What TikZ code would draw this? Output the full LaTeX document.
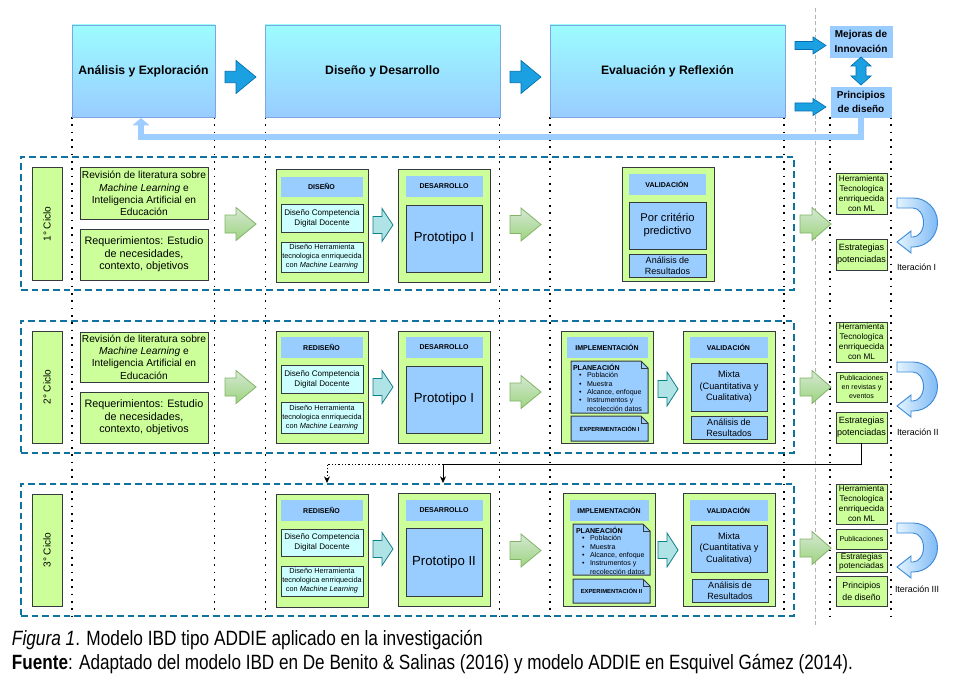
\documentclass[tikz,border=0pt]{standalone}
\usepackage{fontspec}
\setmainfont{Liberation Sans}
\usepackage{graphicx}
\usetikzlibrary{fit,shadows,arrows.meta}

\definecolor{hdrtop}{HTML}{9CFCFF}
\definecolor{hdrbot}{HTML}{99CCFF}
\definecolor{hdrline}{HTML}{7EA6E0}
\definecolor{lblue}{HTML}{99CCFF}
\definecolor{lgreen}{HTML}{CCFF99}
\definecolor{dline}{HTML}{36393D}
\definecolor{lcyan}{HTML}{CCFFFF}
\definecolor{bafill}{HTML}{1BA1E2}
\definecolor{baline}{HTML}{006EAF}
\definecolor{cyc}{HTML}{10739E}
\definecolor{gatop}{HTML}{D5E8D4}
\definecolor{gabot}{HTML}{9DD47F}
\definecolor{galine}{HTML}{82B366}
\definecolor{tafill}{HTML}{B0E3E6}
\definecolor{taline}{HTML}{0E8088}
\definecolor{utl}{HTML}{E3F4FF}
\definecolor{utr}{HTML}{7FBAF5}
\definecolor{utline}{HTML}{3D8BD8}
\definecolor{retc}{HTML}{9ECDFF}
\definecolor{gdash}{HTML}{B3B3B3}

\newcommand\blockarrow[7]{%
  \draw[#1] (#2,#3-#6) -- (#2+#4-#5,#3-#6) -- (#2+#4-#5,#3-#7) -- (#2+#4,#3)
    -- (#2+#4-#5,#3+#7) -- (#2+#4-#5,#3+#6) -- (#2,#3+#6) -- cycle;}

\newcommand\uturn[1]{%
  \draw[uturnst] (897,#1) -- (913,#1) arc[start angle=-90, end angle=90, radius=24.5]
    -- (911,#1+49) -- (911,#1+55) -- (897,#1+44) -- (911,#1+33) -- (911,#1+39) -- (913,#1+39)
    arc[start angle=90, end angle=-90, x radius=10.5, y radius=14.5] -- (897,#1+10) -- cycle;}

\newcommand\docshape[4]{%
  \draw[docst] (#1,#2) -- (#3-7,#2) -- (#3,#2+7) -- (#3,#4) -- (#1,#4) -- cycle;
  \draw[docfold] (#3-7,#2) -- (#3-7,#2+7) -- (#3,#2+7);}

% box: style, name, x1, y1, x2, y2, text style, text
\newcommand\bx[8]{%
  \node[#1, fit={(#3,#4)(#5,#6)}] (#2) {};
  \node[align=center, #7] (#2-t) at (#2.center) {#8};}

\newcommand\bul{\makebox[6pt][l]{•}}
\newcommand\planlist[3]{%
  \node[anchor=west, font=\bfseries\fontsize{5.3}{6}\selectfont] (#1t) at (#2,#3) {PLANEACIÓN};
  \node[anchor=north west, align=left, font=\fontsize{5.3}{6.3}\selectfont] (#1l) at (#2+6,#3+5.5)
    {\bul Población\\\bul Muestra\\\bul Alcance, enfoque\\\bul Instrumentos y\\\makebox[6pt][l]{}recolección datos};}

\begin{document}
\begin{tikzpicture}[x=0.75pt,y=-0.75pt,
  every node/.style={inner sep=0pt,outer sep=0pt},
  hdr/.style={draw=hdrline, line width=0.7pt, top color=hdrtop, bottom color=hdrbot},
  hdrf/.style={font=\bfseries\fontsize{9.15}{11}\selectfont},
  tbox/.style={draw=lblue, fill=lblue, line width=0.5pt},
  tboxf/.style={font=\bfseries\fontsize{7.5}{11.25}\selectfont},
  shad/.style={drop shadow={shadow xshift=0.9pt, shadow yshift=-0.9pt, opacity=0.3, fill=black}},
  gbox/.style={draw=dline, fill=lgreen, line width=0.75pt},
  panel/.style={gbox, shad},
  hbar/.style={fill=lblue, draw=lblue},
  hbarf/.style={font=\bfseries\fontsize{5.25}{6}\selectfont},
  cbox/.style={draw=dline, fill=lcyan, line width=0.75pt},
  bbox/.style={draw=dline, fill=lblue, line width=0.75pt},
  vdot/.style={line width=1.3pt, dash pattern=on 1.3pt off 4.2pt},
  cycbox/.style={draw=cyc, line width=1.4pt, dash pattern=on 5pt off 3pt},
  bluearrow/.style={fill=bafill, draw=baline, line width=0.5pt},
  greenarrow/.style={top color=gatop, bottom color=gabot, draw=galine, line width=0.6pt},
  tealarrow/.style={fill=tafill, draw=taline, line width=0.6pt},
  uturnst/.style={left color=utl, right color=utr, draw=utline, line width=0.7pt},
  docst/.style={fill=lblue, draw=dline, line width=0.75pt},
  docfold/.style={draw=dline, line width=0.6pt},
  conn/.style={draw=black, line width=0.6pt},
  dconn/.style={draw=black, line width=0.6pt, dash pattern=on 1pt off 1.5pt},
  retst/.style={draw=retc, line width=3.8pt},
  iter/.style={font=\fontsize{6.7}{8}\selectfont, anchor=west},
  revf/.style={font=\fontsize{7.65}{9.2}\selectfont},
  reqf/.style={font=\fontsize{8.1}{9.4}\selectfont},
  compf/.style={font=\fontsize{6.1}{7.5}\selectfont},
  herrf/.style={font=\fontsize{5.5}{6.7}\selectfont},
  protof/.style={font=\fontsize{9.9}{12}\selectfont},
  porf/.style={font=\fontsize{8.4}{9.75}\selectfont},
  anaf/.style={font=\fontsize{6.75}{8.3}\selectfont},
  mixf/.style={font=\fontsize{6.9}{8.6}\selectfont},
  expf/.style={font=\bfseries\fontsize{4.4}{5}\selectfont},
  rherrf/.style={font=\fontsize{6.15}{7.5}\selectfont},
  restrf/.style={font=\fontsize{6.8}{9}\selectfont},
  restrsf/.style={font=\fontsize{6.2}{7.1}\selectfont},
  rprinf/.style={font=\fontsize{6.6}{9}\selectfont},
  pubf/.style={font=\fontsize{5.3}{6.4}\selectfont},
  cycf/.style={font=\fontsize{7.6}{9}\selectfont, rotate=90},
]
\fill[white] (0,0) rectangle (956,681);
\useasboundingbox (0,0) rectangle (956,681);

% guide lines
\draw[gdash, line width=0.6pt, dash pattern=on 3pt off 2pt] (815,8) -- (815,625);
\foreach \xx in {72,214.5,265.5,499.5,550,784,830,891} {\draw[vdot] (\xx,117) -- (\xx,622);}

% header row
\bx{hdr}{an1}{72}{25}{215}{117}{hdrf}{Análisis y Exploración}
\bx{hdr}{an2}{265}{25}{500}{117}{hdrf}{Diseño y Desarrollo}
\bx{hdr}{an3}{550}{25}{785}{117}{hdrf}{Evaluación y Reflexión}
\bx{tbox}{mej}{830}{26}{892}{57}{tboxf}{Mejoras de\\Innovación}
\bx{tbox}{pri}{831}{87}{891}{117}{font=\bfseries\fontsize{7.5}{10.75}\selectfont}{Principios\\de diseño}
\blockarrow{bluearrow}{225}{77}{31}{20}{5.7}{16.5}
\blockarrow{bluearrow}{510}{77}{31}{20}{5.7}{16.5}
\blockarrow{bluearrow}{795}{45.5}{31}{13}{4}{8.5}
\blockarrow{bluearrow}{795}{107}{31}{13}{4}{8.5}
\draw[bluearrow] (861,57) -- (871,66) -- (866,66) -- (866,76) -- (871,76) -- (861,85) -- (851,76) -- (856,76) -- (856,66) -- (851,66) -- cycle;
\coordinate (retend) at (141,118);
\draw[retst, -{Triangle[width=12.75pt,length=5.6pt]}] (pri.south) -- ++(0,20) -| (retend);

% cycle frames
\node[cycbox, fit={(21,157)(794,290)}] (cyc1) {};
\node[cycbox, fit={(21,321)(794,453)}] (cyc2) {};
\node[cycbox, fit={(21,484)(794,616)}] (cyc3) {};

% ---------- cycle 1
\node[panel, fit={(32,168)(62,280)}] (l1) {};
\node[cycf] (l1t) at (l1) {1° Ciclo};
\bx{gbox}{rev1}{80}{168}{208}{219}{revf}{Revisión de literatura sobre\\\textit{Machine Learning} e\\Inteligencia Artificial en\\Educación}
\bx{gbox}{req1}{80}{229}{208}{280}{reqf}{Requerimientos: Estudio\\de necesidades,\\contexto, objetivos}
\blockarrow{greenarrow}{225}{224}{31}{20}{9}{16.5}
\node[panel, fit={(276,170)(368,282)}] (pd1) {};
\bx{hbar}{pd1h}{281}{177}{362}{196}{hbarf}{DISEÑO}
\bx{cbox}{pd1c}{281}{204}{363}{232}{compf}{Diseño Competencia\\Digital Docente}
\bx{cbox}{pd1e}{281}{242}{363}{272}{herrf}{Diseño Herramienta\\tecnologica enrriquecida\\con \textit{Machine Learning}}
\blockarrow{tealarrow}{373}{225}{20}{11}{8.5}{16.5}
\node[panel, fit={(398,170)(490,282)}] (ps1) {};
\bx{hbar}{ps1h}{406}{176}{482}{196}{hbarf}{DESARROLLO}
\bx{bbox}{ps1p}{406}{205}{482}{272}{protof}{Prototipo I}
\blockarrow{greenarrow}{510}{224.5}{31}{20}{9}{16.5}
\node[panel, fit={(622,168)(714,281)}] (pv1) {};
\bx{hbar}{pv1h}{629}{174}{705}{194}{hbarf}{VALIDACIÓN}
\bx{bbox}{pv1m}{629}{202}{706}{249}{porf}{Por critério\\predictivo}
\bx{bbox}{pv1a}{629}{254}{706}{277}{anaf}{Análisis de\\Resultados}
\blockarrow{greenarrow}{800}{224}{31}{19}{9}{16.5}
\bx{gbox}{r1h}{836}{174}{887}{214}{rherrf}{Herramienta\\Tecnologíca\\enrriquecida\\con ML}
\bx{gbox}{r1e}{836}{239}{887}{270}{restrf}{Estrategias\\potenciadas}
\uturn{198}
\node[iter] (it1) at (897,267) {Iteración I};

% ---------- cycle 2
\node[panel, fit={(32,331)(62,443)}] (l2) {};
\node[cycf] (l2t) at (l2) {2° Ciclo};
\bx{gbox}{rev2}{80}{332}{208}{382}{revf}{Revisión de literatura sobre\\\textit{Machine Learning} e\\Inteligencia Artificial en\\Educación}
\bx{gbox}{req2}{80}{392}{208}{443}{reqf}{Requerimientos: Estudio\\de necesidades,\\contexto, objetivos}
\blockarrow{greenarrow}{225}{387}{31}{20}{9}{16.5}
\node[panel, fit={(276,331)(368,443)}] (pd2) {};
\bx{hbar}{pd2h}{281}{337}{362}{357}{hbarf}{REDISEÑO}
\bx{cbox}{pd2c}{281}{365}{363}{393}{compf}{Diseño Competencia\\Digital Docente}
\bx{cbox}{pd2e}{281}{402}{363}{433}{herrf}{Diseño Herramienta\\tecnologica enrriquecida\\con \textit{Machine Learning}}
\blockarrow{tealarrow}{373}{387}{20}{11}{8.5}{16.5}
\node[panel, fit={(398,331)(490,443)}] (ps2) {};
\bx{hbar}{ps2h}{406}{337}{482}{357}{hbarf}{DESARROLLO}
\bx{bbox}{ps2p}{406}{366}{482}{433}{protof}{Prototipo I}
\blockarrow{greenarrow}{510}{392}{31}{20}{9}{16.5}
\node[panel, fit={(561,331)(653,443)}] (pi2) {};
\bx{hbar}{pi2h}{567}{337}{647}{357}{hbarf}{IMPLEMENTACIÓN}
\docshape{571}{361}{648}{413}
\planlist{pl2}{573}{367}
\docshape{571}{416}{648}{441}
\node[expf] (ex2) at (609.5,429) {EXPERIMENTACIÓN I};
\blockarrow{tealarrow}{658}{389}{20}{11}{8.5}{17}
\node[panel, fit={(683,331)(775,443)}] (pv2) {};
\bx{hbar}{pv2h}{690}{337}{767}{357}{hbarf}{VALIDACIÓN}
\bx{bbox}{pv2m}{691}{363}{767}{411}{mixf}{Mixta\\(Cuantitativa y\\Cualitativa)}
\bx{bbox}{pv2a}{691}{416}{767}{439}{anaf}{Análisis de\\Resultados}
\blockarrow{greenarrow}{800}{387}{31}{19}{9}{16.5}
\bx{gbox}{r2h}{836}{322}{887}{362}{rherrf}{Herramienta\\Tecnologíca\\enrriquecida\\con ML}
\bx{gbox}{r2p}{836}{372}{887}{402}{pubf}{Publicaciones\\en revistas y\\eventos}
\bx{gbox}{r2e}{836}{412}{887}{443}{restrf}{Estrategias\\potenciadas}
\uturn{362}
\node[iter] (it2) at (897,432) {Iteración II};

% link cycle 2 -> cycle 3
\coordinate (jn) at (443,464);
\coordinate (c3a) at (443,483);
\coordinate (c3b) at (327,483);
\draw[conn, -{Stealth[length=5pt,width=4.5pt]}] (r2e.south) |- (jn) -- (c3a);
\draw[dconn, -{Stealth[length=5pt,width=4.5pt]}] (jn) -| (c3b);

% ---------- cycle 3
\node[panel, fit={(32,494)(62,606)}] (l3) {};
\node[cycf] (l3t) at (l3) {3° Ciclo};
\node[panel, fit={(276,494)(368,607)}] (pd3) {};
\bx{hbar}{pd3h}{281}{500}{362}{520}{hbarf}{REDISEÑO}
\bx{cbox}{pd3c}{281}{529}{363}{556}{compf}{Diseño Competencia\\Digital Docente}
\bx{cbox}{pd3e}{281}{566}{363}{596}{herrf}{Diseño Herramienta\\tecnologica enrriquecida\\con \textit{Machine Learning}}
\blockarrow{tealarrow}{373}{549}{20}{11}{8.5}{16.5}
\node[panel, fit={(398,493)(490,606)}] (ps3) {};
\bx{hbar}{ps3h}{406}{500}{482}{520}{hbarf}{DESARROLLO}
\bx{bbox}{ps3p}{406}{528}{482}{596}{protof}{Prototipo II}
\blockarrow{greenarrow}{510}{550.5}{31}{20}{9}{16.5}
\node[panel, fit={(563,493)(655,606)}] (pi3) {};
\bx{hbar}{pi3h}{570}{500}{648}{520}{hbarf}{IMPLEMENTACIÓN}
\docshape{573}{524}{650}{575}
\planlist{pl3}{576}{530}
\docshape{573}{579}{650}{603}
\node[expf] (ex3) at (611.5,591) {EXPERIMENTACIÓN II};
\blockarrow{tealarrow}{658}{550}{20}{11}{8.5}{17}
\node[panel, fit={(683,493)(775,606)}] (pv3) {};
\bx{hbar}{pv3h}{690}{500}{767}{520}{hbarf}{VALIDACIÓN}
\bx{bbox}{pv3m}{691}{525}{767}{572}{mixf}{Mixta\\(Cuantitativa y\\Cualitativa)}
\bx{bbox}{pv3a}{692}{579}{768}{602}{anaf}{Análisis de\\Resultados}
\blockarrow{greenarrow}{800}{548}{31}{19}{9}{16.5}
\bx{gbox}{r3h}{836}{484}{887}{524}{rherrf}{Herramienta\\Tecnologíca\\enrriquecida\\con ML}
\bx{gbox}{r3p}{836}{529}{887}{549}{pubf}{Publicaciones}
\bx{gbox}{r3e}{836}{552}{887}{572}{restrsf}{Estrategias\\potenciadas}
\bx{gbox}{r3d}{836}{576}{887}{606}{rprinf}{Principios\\de diseño}
\uturn{523}
\node[iter] (it3) at (895,589) {Iteración III};

% caption
\node[anchor=base west] (cap1) at (12,645) {\resizebox{353pt}{\height}{\fontsize{15.5}{17}\selectfont\textit{Figura 1}. Modelo IBD tipo ADDIE aplicado en la investigación}};
\node[anchor=base west] (cap2) at (12,669) {\resizebox{630.75pt}{\height}{\fontsize{15.5}{17}\selectfont\textbf{Fuente}: Adaptado del modelo IBD en De Benito \& Salinas (2016) y modelo ADDIE en Esquivel Gámez (2014).}};
\end{tikzpicture}
\end{document}
